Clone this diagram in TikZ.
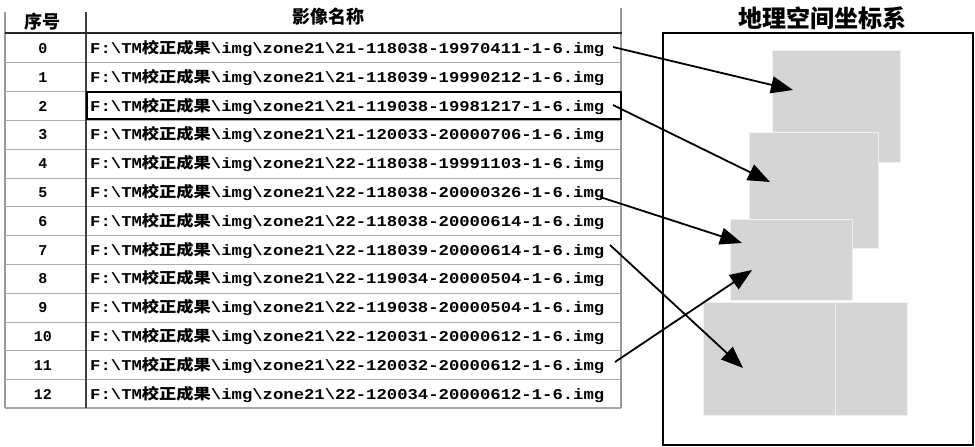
\documentclass[tikz,border=0pt]{standalone}
\usepackage{fontspec}
\usepackage{graphicx}
\setmainfont{Liberation Sans}
\setmonofont{Liberation Mono}
\newfontfamily\cjkf{Noto Sans CJK SC}
\usetikzlibrary{arrows.meta}
\newcommand\fnm[1]{\scalebox{1.15}[1]{\fontsize{15}{15}\selectfont\ttfamily\bfseries F:\textbackslash TM{\cjkf 校正成果}\textbackslash img\textbackslash zone21\textbackslash #1-1-6.img}}
\tikzset{
  fname/.style={anchor=west, inner sep=0pt},
  idx/.style={inner sep=0pt, font=\fontsize{15}{15}\selectfont\ttfamily\bfseries},
  hdr/.style={inner sep=0pt, font=\cjkf\bfseries\fontsize{18}{18}\selectfont},
  rowline/.style={draw=gray!65, line width=0.9pt},
  tile/.style={fill=gray!33, draw=gray!12, line width=0.8pt},
  conn/.style={line width=1.8pt, -{Triangle[length=22pt,width=17pt]}},
}
\begin{document}
\begin{tikzpicture}[x=1pt,y=-1pt]
\useasboundingbox (0,0) rectangle (975,447);
% header
\node[hdr] (h1) at (42,22) {序号};
\node[hdr] (h2) at (328,17) {影像名称};
% table lines
\foreach \k in {1,...,12} {\draw[rowline] (5,{34+28.8*\k}) -- (621,{34+28.8*\k});}
\draw[draw=gray!70, line width=1.3pt] (5,408) -- (621,408);
\draw[draw=gray!80, line width=1.2pt] (5,12) -- (5,408);
\draw[draw=black!75, line width=1.2pt] (86,12) -- (86,408);
\draw[draw=gray!80, line width=1.2pt] (621,8) -- (621,408);
\draw[black!85, line width=1.8pt] (5,33) -- (622,33);
% rows
\foreach \i/\t in {0/21-118038-19970411, 1/21-118039-19990212, 2/21-119038-19981217,
  3/21-120033-20000706, 4/22-118038-19991103, 5/22-118038-20000326,
  6/22-118038-20000614, 7/22-118039-20000614, 8/22-119034-20000504,
  9/22-119038-20000504, 10/22-120031-20000612, 11/22-120032-20000612,
  12/22-120034-20000612} {
  \node[idx] (n\i) at (43,{48.5+28.8*\i}) {\i};
  \node[fname] (r\i) at (90,{48.5+28.8*\i}) {\fnm{\t}};
}
\draw[line width=2.6pt] (87,92) rectangle (621,119);
% right panel
\node[inner sep=0pt, font=\cjkf\bfseries\fontsize{24}{24}\selectfont] (title) at (822,18) {地理空间坐标系};
\draw[line width=1.3pt] (663,33) rectangle (973,445);
\path[tile] (772,50) rectangle (900,162);
\path[tile] (749,132) rectangle (878,248);
\path[tile] (730,219) rectangle (852,300);
\path[tile] (703,302) rectangle (835,415);
\path[tile] (835,302) rectangle (907,415);
% connectors
\coordinate (s0) at (613,47);
\coordinate (s2) at (613,105);
\coordinate (s5) at (600,197);
\coordinate (s7) at (610,245);
\coordinate (s11) at (615,362);
\coordinate (t0) at (793,90);
\coordinate (t2) at (770,182);
\coordinate (t5) at (742,243);
\coordinate (t7) at (743,368);
\coordinate (t11) at (752,270);
\draw[conn] (s0) -- (t0);
\draw[conn] (s2) -- (t2);
\draw[conn] (s5) -- (t5);
\draw[conn] (s7) -- (t7);
\draw[conn] (s11) -- (t11);
\end{tikzpicture}
\end{document}
